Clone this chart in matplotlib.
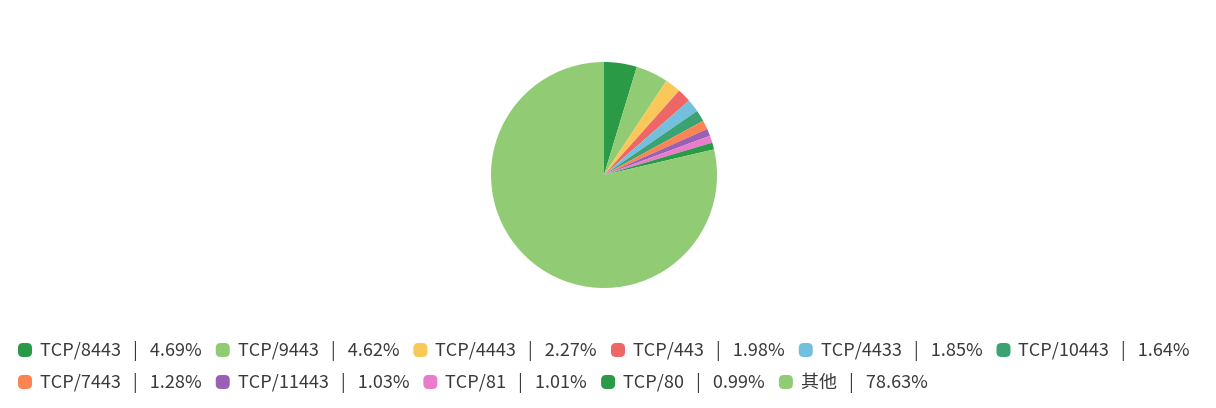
import matplotlib
matplotlib.use("Agg")
import matplotlib.pyplot as plt
from matplotlib.patches import FancyBboxPatch

plt.rcParams['font.family'] = ['Noto Sans CJK SC', 'DejaVu Sans']

# data
ports = ['TCP/8443', 'TCP/9443', 'TCP/4443', 'TCP/443', 'TCP/4433', 'TCP/10443',
         'TCP/7443', 'TCP/11443', 'TCP/81', 'TCP/80', '其他']
shares = [4.69, 4.62, 2.27, 1.98, 1.85, 1.64, 1.28, 1.03, 1.01, 0.99, 78.63]
colors = ['#2a9a47', '#91cc75', '#fac858', '#ee6666', '#73c0de', '#3ba272',
          '#fc8452', '#9a60b4', '#ea7ccc', '#2a9a47', '#91cc75']

W, H = 1216, 408
fig = plt.figure(figsize=(W / 100, H / 100), dpi=100)

# pie, centre (604,175) px, radius 113 px
cx, cy, r = 604, 175, 113
ax = fig.add_axes([(cx - r) / W, (H - cy - r) / H, 2 * r / W, 2 * r / H])
ax.pie(shares, colors=colors, startangle=90, counterclock=False,
       wedgeprops=dict(linewidth=0))
ax.set_xlim(-1, 1)
ax.set_ylim(-1, 1)
ax.set_aspect('equal')
ax.axis('off')

# legend laid out by hand like the original (wrapping rows)
renderer = fig.canvas.get_renderer()
x0, x_max = 18, 1206
row_y = [351, 383]
box, pad, gap = 14, 8, 14
x, row = x0, 0
for name, val, col in zip(ports, shares, colors):
    label = f'{name}   |   {val:.2f}%'
    t = fig.text(0, 0, label, fontsize=13, color='#3a3a3a', va='center', ha='left')
    tw = t.get_window_extent(renderer).width
    item_w = box + pad + tw
    if x + item_w > x_max and x > x0:
        row += 1
        x = x0
    y = row_y[row]
    t.set_position(((x + box + pad) / W, (H - y) / H))
    sq = FancyBboxPatch((x / W, (H - y - box / 2 + 1) / H), box / W, box / H,
                        boxstyle='round,pad=0,rounding_size=0.004',
                        transform=fig.transFigure, facecolor=col, edgecolor='none',
                        mutation_aspect=W / H)
    fig.patches.append(sq)
    x += item_w + gap

fig.savefig('out.png', dpi=100, facecolor='white')
